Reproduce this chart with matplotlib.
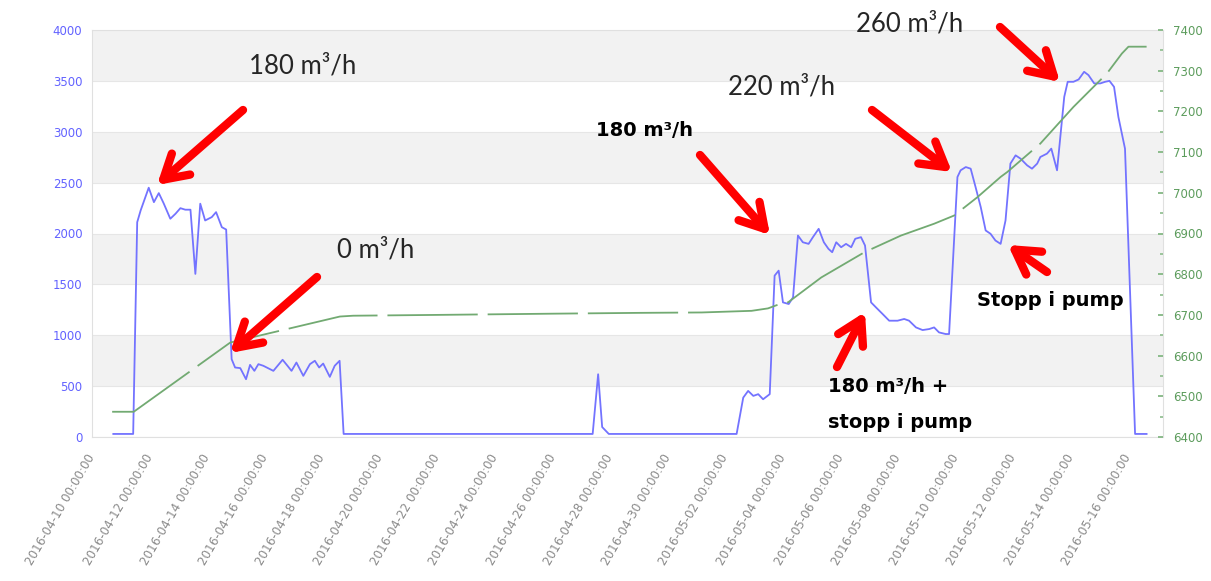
import numpy as np
import pandas as pd
import matplotlib
matplotlib.use('Agg')
import matplotlib.pyplot as plt
from matplotlib.ticker import MultipleLocator

W, H = 1211, 581
start = pd.Timestamp('2016-04-10')

# flow (left axis), time given as days after 2016-04-10 00:00
flow_days = [0.74, 1.43, 1.57, 1.69, 1.97, 2.15, 2.32, 2.49, 2.72, 2.90, 3.07, 3.24, 3.42,
             3.59, 3.76, 3.93, 4.16, 4.31, 4.51, 4.66, 4.85, 4.97, 5.15, 5.35, 5.49, 5.64,
             5.78, 5.95, 6.30, 6.62, 6.79, 6.93, 7.10, 7.34, 7.57, 7.74, 7.89, 8.03, 8.26,
             8.43, 8.60, 8.74, 17.39, 17.58, 17.72, 17.95, 22.39, 22.62, 22.79, 22.97, 23.14,
             23.31, 23.54, 23.71, 23.85, 24.00, 24.20, 24.35, 24.52, 24.69, 24.89, 25.04,
             25.24, 25.42, 25.58, 25.71, 25.85, 26.02, 26.19, 26.37, 26.51, 26.71, 26.85,
             27.06, 27.23, 27.46, 27.69, 27.98, 28.21, 28.38, 28.62, 28.85, 29.08, 29.25,
             29.42, 29.65, 29.77, 30.06, 30.17, 30.35, 30.52, 30.69, 30.87, 31.04, 31.21,
             31.38, 31.56, 31.73, 31.90, 32.08, 32.25, 32.48, 32.65, 32.83, 32.94, 33.17,
             33.32, 33.52, 33.77, 33.89, 34.09, 34.27, 34.46, 34.61, 34.81, 35.02, 35.19,
             35.34, 35.50, 35.65, 35.88, 36.23, 36.63]
flow_vals = [30, 30, 2111, 2227, 2450, 2308, 2397, 2296, 2145, 2194, 2249, 2234, 2234,
             1603, 2293, 2128, 2161, 2210, 2062, 2039, 765, 683, 677, 568, 709, 650,
             716, 700, 650, 759, 700, 650, 732, 601, 716, 749, 683, 722, 591,
             700, 749, 30, 30, 617, 98, 30, 30, 387, 453, 404, 421,
             371, 421, 1586, 1635, 1323, 1307, 1372, 1980, 1914, 1898, 1964,
             2046, 1914, 1849, 1816, 1914, 1865, 1898, 1865, 1948, 1964, 1882,
             1323, 1274, 1209, 1143, 1143, 1160, 1143, 1077, 1051, 1061, 1077,
             1028, 1012, 1012, 2555, 2621, 2653, 2637, 2456, 2259, 2030, 1997,
             1931, 1898, 2128, 2687, 2768, 2736, 2670, 2637, 2687, 2752, 2785,
             2834, 2621, 3343, 3491, 3491, 3514, 3589, 3557, 3475, 3475, 3491,
             3500, 3441, 3146, 2834, 30, 30]

# counter (right axis)
level_days = [0.70, 1.45, 4.80, 5.03, 8.61, 9.07, 12.0, 16.0, 19.0, 21.18, 22.91, 23.48,
              23.90, 24.18, 25.33, 26.83, 28.10, 29.25, 29.94, 30.75, 31.56, 31.79, 32.94,
              34.09, 35.25, 35.77, 36.00, 36.63]
level_vals = [6462, 6462, 6632, 6636, 6696, 6698, 6700, 6703, 6705, 6706, 6710, 6716,
              6727, 6731, 6792, 6854, 6895, 6924, 6944, 6989, 7039, 7051, 7121,
              7211, 7293, 7342, 7359, 7359]

tick_dates = pd.date_range('2016-04-10', '2016-05-16', freq='2D')
left_ticks = list(range(0, 4001, 500))
right_ticks = list(range(6400, 7401, 100))

flow_t = start + pd.to_timedelta(flow_days, unit='D')
level_t = start + pd.to_timedelta(level_days, unit='D')


def px(x, y):
    return (x / W, 1 - y / H)


fig = plt.figure(figsize=(W / 100, H / 100), dpi=100)
ax = fig.add_axes([92 / W, 1 - 437 / H, 1071 / W, 407 / H])

for lo in left_ticks[:-1]:
    if (lo // 500) % 2 == 1:
        ax.axhspan(lo, lo + 500, color='#f2f2f2', zorder=0, lw=0)
ax.set_yticks(left_ticks)
ax.yaxis.grid(True, color='#e6e6e6', lw=0.8, zorder=0)
ax.set_ylim(0, 4000)
ax.set_xlim(start + pd.Timedelta(days=0.138), start + pd.Timedelta(days=37.2))
ax.plot(flow_t, flow_vals, color='#7373ff', lw=1.3, zorder=3)

for s in ax.spines.values():
    s.set_color('#e0e0e0')
    s.set_linewidth(0.8)
ax.tick_params(axis='y', length=0, pad=7, labelsize=8.5, labelcolor='#6262ff')
ax.set_xticks(tick_dates)
ax.set_xticklabels([d.strftime('%Y-%m-%d %H:%M:%S') for d in tick_dates],
                   rotation=60, ha='right', va='center', rotation_mode='anchor',
                   color='#8a8a8a', fontsize=8.6)
ax.tick_params(axis='x', length=0, pad=13)

ax2 = ax.twinx()
ax2.plot(level_t, level_vals, color='#72aa72', lw=1.3, dashes=(50, 5.5))
ax2.set_ylim(6400, 7400)
ax2.set_yticks(right_ticks)
ax2.yaxis.set_minor_locator(MultipleLocator(50))
ax2.tick_params(axis='y', which='major', direction='in', length=3.5, width=1.4,
                color='#8cbc8c', pad=7, labelsize=8.5, labelcolor='#5c9c5c')
ax2.tick_params(axis='y', which='minor', direction='in', length=2, width=1.2,
                color='#8cbc8c')
for s in ax2.spines.values():
    s.set_visible(False)

# callouts
normal = dict(ha='center', va='center', fontsize=18.5, family='Lato', color='#262626')
bold = dict(va='center', fontsize=14, family='DejaVu Sans', weight='bold', color='black')
fig.text(*px(303, 66), '180 m³/h', **normal)
fig.text(*px(376, 250), '0 m³/h', **normal)
fig.text(*px(782, 87), '220 m³/h', **normal)
fig.text(*px(910, 24), '260 m³/h', **normal)
fig.text(*px(645, 131), '180 m³/h', ha='center', **bold)
fig.text(*px(828, 387), '180 m³/h +', ha='left', **bold)
fig.text(*px(828, 423), 'stopp i pump', ha='left', **bold)
fig.text(*px(1050, 300), 'Stopp i pump', ha='center', **bold)

arrows = [((243, 110), (157, 185)),
          ((317, 277), (230, 353)),
          ((700, 155), (770, 235)),
          ((872, 110), (952, 172)),
          ((1000, 27), (1060, 82)),
          ((837, 367), (865, 312)),
          ((1047, 272), (1008, 245))]
for tail, tip in arrows:
    fig.add_artist(matplotlib.patches.FancyArrowPatch(
        px(*tail), px(*tip), transform=fig.transFigure,
        arrowstyle='->,head_length=0.85,head_width=0.5', mutation_scale=20,
        color='#ff0000', lw=6, shrinkA=0, shrinkB=0, zorder=10))

fig.savefig('out.png', dpi=100)
